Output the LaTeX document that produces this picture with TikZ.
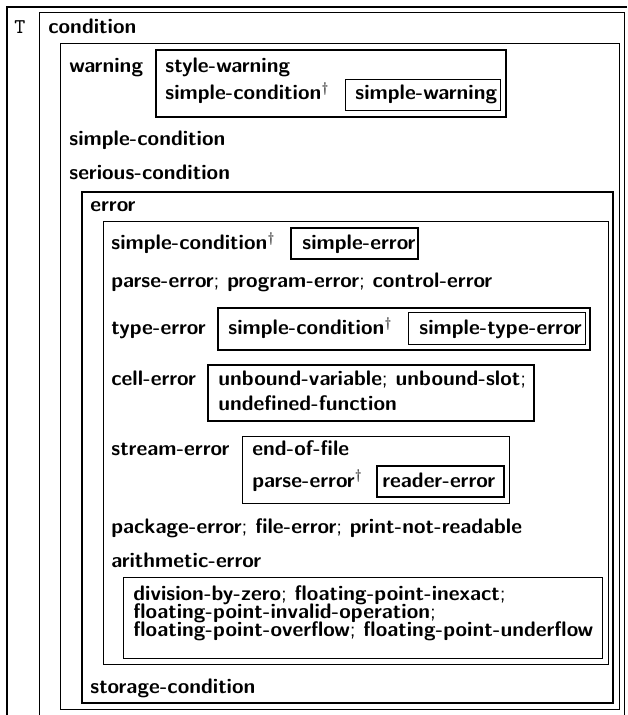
\documentclass[tikz,border=0pt]{standalone}
\usepackage{amsmath, amssymb}
\usepackage{tikz}

\tikzset{
  lbl/.style={anchor=base west, inner sep=0pt, font=\fontsize{10.5}{12}\selectfont\sffamily\bfseries},
  thinbox/.style={line width=.5pt},
  thickbox/.style={line width=1pt}
}
\newcommand{\semi}{{\mdseries;}}
\newcommand{\dg}{$^{\dagger}$}
\newcommand{\lines}[2]{\vtop{\baselineskip=#1\lineskiplimit=-20pt #2}}

\begin{document}
\begin{tikzpicture}[x=.5pt, y=-.5pt]
	\useasboundingbox (0,0) rectangle (627,715);

	% outer frames
	\draw[thickbox] (627,7) to (7,7) to (7,715);
	\draw[thinbox] (39,715) to (39,13) to (624,13) to (624,715);
	\draw[thinbox] (60,44) rectangle (619,709);

	% warning
	\draw[thickbox] (156,50) rectangle (506,117);
	\draw[thinbox] (345,80) rectangle (500,111);

	% error
	\draw[thickbox] (82,192) rectangle (613,703);
	\draw[thinbox] (103,222) rectangle (608,664);
	\draw[thickbox] (291,228) rectangle (418,259);
	\draw[thickbox] (218,308) rectangle (590,350);
	\draw[thinbox] (408,313) rectangle (585,344);
	\draw[thickbox] (208,365) rectangle (534,421);
	\draw[thinbox] (242,436) rectangle (509,503);
	\draw[thickbox] (377,466) rectangle (504,497);
	\draw[thinbox] (123,577) rectangle (602,658);

	\node[lbl, font=\fontsize{10.5}{12}\selectfont\ttfamily] (top) at (14,34) {T};
	\node[lbl] (cond) at (48,34) {condition};
	\node[lbl] (warn) at (69,73) {warning};
	\node[lbl] (stylew) at (165,73) {style-warning};
	\node[lbl] (scw) at (165,100) {simple-condition\dg};
	\node[lbl] (simplew) at (355,100) {simple-warning};
	\node[lbl] (simplec) at (69,146) {simple-condition};
	\node[lbl] (serious) at (69,180) {serious-condition};
	\node[lbl] (err) at (90,212) {error};
	\node[lbl] (sce) at (111,250) {simple-condition\dg};
	\node[lbl] (simplee) at (302,250) {simple-error};
	\node[lbl] (parse) at (111,288) {parse-error\semi{} program-error\semi{} control-error};
	\node[lbl] (typee) at (111,335) {type-error};
	\node[lbl] (sct) at (228,335) {simple-condition\dg};
	\node[lbl] (simplet) at (419,335) {simple-type-error};
	\node[lbl] (celle) at (111,385) {cell-error};
	\node[lbl] (unbound) at (218,385) {\lines{12.5pt}{\hbox{unbound-variable\semi{} unbound-slot\semi}
		\hbox{undefined-function}}};
	\node[lbl] (streame) at (111,455) {stream-error};
	\node[lbl] (eof) at (252,455) {end-of-file};
	\node[lbl] (pes) at (252,487) {parse-error\dg};
	\node[lbl] (reader) at (382,487) {reader-error};
	\node[lbl] (pkg) at (111,533) {package-error\semi{} file-error\semi{} print-not-readable};
	\node[lbl] (arith) at (111,567) {arithmetic-error};
	\node[lbl] (fp) at (133,600) {\lines{9pt}{\hbox{division-by-zero\semi{} floating-point-inexact\semi}
		\hbox{floating-point-invalid-operation\semi}
		\hbox{floating-point-overflow\semi{} floating-point-underflow}}};
	\node[lbl] (storage) at (90,693) {storage-condition};
\end{tikzpicture}
\end{document}
